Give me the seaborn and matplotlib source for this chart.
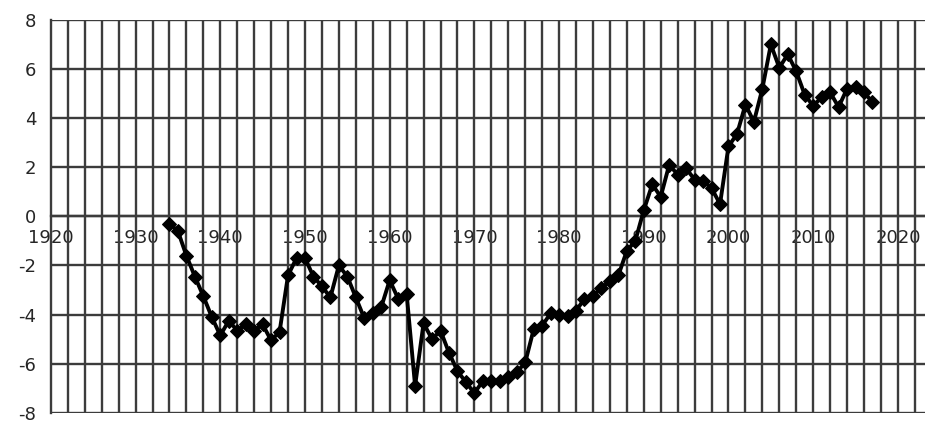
import pandas as pd
import matplotlib
matplotlib.use("Agg")
import matplotlib.pyplot as plt
import seaborn as sns

# ---------- DATA ----------
years = list(range(1934, 2018))
values = [
    -0.3, -0.6, -1.6, -2.45, -3.25, -4.1,            # 1934-1939
    -4.85, -4.25, -4.65, -4.4, -4.65, -4.4, -5.05, -4.7, -2.4, -1.7,   # 1940s
    -1.7, -2.45, -2.85, -3.3, -2.0, -2.45, -3.3, -4.15, -3.95, -3.7,  # 1950s
    -2.6, -3.35, -3.15, -6.9, -4.35, -5.0, -4.65, -5.55, -6.3, -6.75,  # 1960s
    -7.2, -6.7, -6.7, -6.7, -6.55, -6.35, -5.95, -4.6, -4.45, -3.95,   # 1970s
    -4.0, -4.05, -3.85, -3.35, -3.25, -2.9, -2.65, -2.4, -1.4, -1.0,   # 1980s
    0.25, 1.3, 0.8, 2.1, 1.7, 1.95, 1.5, 1.45, 1.15, 0.5,              # 1990s
    2.85, 3.35, 4.55, 3.85, 5.2, 7.0, 6.05, 6.6, 5.9, 4.95,            # 2000s
    4.5, 4.85, 5.05, 4.45, 5.2, 5.25, 5.05, 4.65,                      # 2010-2017
]
x_ticks = [1920, 1930, 1940, 1950, 1960, 1970, 1980, 1990, 2000, 2010, 2020]
y_ticks = [-8, -6, -4, -2, 0, 2, 4, 6, 8]

df = pd.DataFrame({"Ano": years, "Valor": values})

# ---------- PLOT ----------
sns.set_style("white")
plt.rcParams['font.family'] = ['DejaVu Sans']

fig = plt.figure(figsize=(9.25, 4.23), dpi=100)
ax = fig.add_axes([0.055, 0.024, 0.945, 0.929])

grid_color = '#3c3c3c'
for yr in range(1922, 2023, 2):
    ax.axvline(yr, color=grid_color, lw=1.7, zorder=1)
for v in y_ticks:
    ax.axhline(v, color=grid_color, lw=1.7, zorder=1)

sns.lineplot(data=df, x="Ano", y="Valor", ax=ax, color='black', lw=2.8,
             marker='D', markersize=7.5, markeredgecolor='black', zorder=3)

ax.set_xlim(1920, 2023.2)
ax.set_ylim(-8, 8)
ax.set_xlabel('')
ax.set_ylabel('')

ax.spines['right'].set_visible(False)
ax.spines['top'].set_visible(False)
ax.spines['bottom'].set_position(('data', 0))
for s in ['left', 'bottom']:
    ax.spines[s].set_color(grid_color)
    ax.spines[s].set_linewidth(1.7)

ax.set_yticks(y_ticks)
ax.set_yticklabels([str(v) for v in y_ticks], fontsize=13)
ax.tick_params(axis='y', length=6.5, width=1.7, color=grid_color, pad=4)

ax.set_xticks(x_ticks)
ax.set_xticklabels([str(v) for v in x_ticks], fontsize=13)
ax.tick_params(axis='x', length=0, pad=9)

plt.savefig('out.png', dpi=100)
plt.close()
